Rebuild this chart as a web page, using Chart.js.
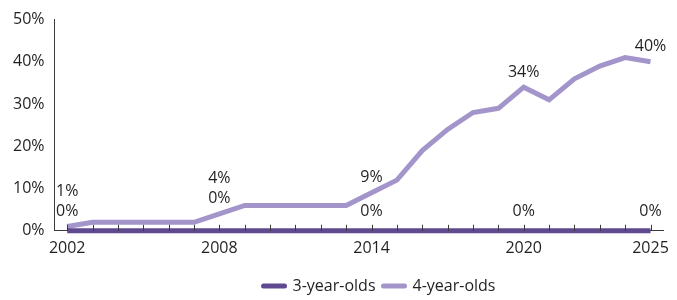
<!DOCTYPE html>
<html>
<head>
<meta charset="utf-8">
<script src="https://cdn.jsdelivr.net/npm/chart.js@4/dist/chart.umd.min.js"></script>
<style>
html,body{margin:0;padding:0;background:#fff;}
#wrap{width:677px;height:300px;position:relative;}
</style>
</head>
<body>
<div id="wrap"><canvas id="c"></canvas></div>
<script>
const years = [2002,2003,2004,2005,2006,2007,2008,2009,2010,2011,2012,2013,2014,2015,2016,2017,2018,2019,2020,2021,2022,2023,2024,2025];
const shownYears = [2002,2008,2014,2020,2025];
const threeYearOlds = [0,0,0,0,0,0,0,0,0,0,0,0,0,0,0,0,0,0,0,0,0,0,0,0];
const fourYearOlds = [1,2,2,2,2,2,4,6,6,6,6,6,9,12,19,24,28,29,34,31,36,39,41,40];
const labelYears = [2002,2008,2014,2020,2025];
const yTicks = [0,10,20,30,40,50];

const FONT = '"Open Sans", "Noto Sans", sans-serif';
const TXT = '#231f20';
const DARK = '#5f4a8f';
const LIGHT = '#a395ca';

const valueLabels = {
  id: 'valueLabels',
  afterInit(chart) {
    const lg = chart.legend;
    if (lg) {
      const orig = lg.draw;
      lg.draw = function() {
        const c = this.ctx;
        c.save();
        c.translate(44, 4);
        orig.apply(this, arguments);
        c.restore();
      };
    }
  },
  afterDatasetsDraw(chart) {
    const ctx = chart.ctx;
    const m3 = chart.getDatasetMeta(0).data;
    const m4 = chart.getDatasetMeta(1).data;
    ctx.save();
    ctx.font = '16px ' + FONT;
    ctx.fillStyle = TXT;
    ctx.textAlign = 'center';
    ctx.textBaseline = 'middle';
    labelYears.forEach(yr => {
      const i = years.indexOf(yr);
      const p3 = m3[i], p4 = m4[i];
      let y3 = p3.y - 19;
      let y4 = p4.y - 15;
      if (p3.y - p4.y < 25) {
        y3 = p4.y - 15;
        y4 = y3 - 20;
      }
      ctx.fillText(threeYearOlds[i] + '%', p3.x, y3);
      ctx.fillText(fourYearOlds[i] + '%', p4.x, y4);
    });
    const xs = chart.scales.x;
    const b = chart.chartArea.bottom;
    ctx.strokeStyle = '#3a3a3a';
    ctx.lineWidth = 1;
    years.forEach((yr, i) => {
      const x = Math.round(xs.getPixelForValue(i)) + 0.5;
      ctx.beginPath();
      ctx.moveTo(x, b);
      ctx.lineTo(x, b - 6);
      ctx.stroke();
    });
    ctx.restore();
  }
};

new Chart(document.getElementById('c'), {
  type: 'line',
  data: {
    labels: years.map(String),
    datasets: [
      { label: '3-year-olds', data: threeYearOlds, borderColor: DARK, backgroundColor: DARK, borderWidth: 5, pointRadius: 0, tension: 0, borderCapStyle: 'butt', clip: false },
      { label: '4-year-olds', data: fourYearOlds, borderColor: LIGHT, backgroundColor: LIGHT, borderWidth: 5, pointRadius: 0, tension: 0, borderCapStyle: 'butt', clip: false }
    ]
  },
  options: {
    responsive: true,
    maintainAspectRatio: false,
    animation: false,
    layout: { padding: { left: 3, right: 9, top: 3, bottom: 0 } },
    plugins: {
      legend: {
        position: 'bottom',
        labels: {
          font: { family: FONT, size: 16 },
          color: TXT,
          usePointStyle: true,
          pointStyle: 'line',
          pointStyleWidth: 21,
          boxWidth: 21,
          padding: 8,
          generateLabels(chart) {
            return chart.data.datasets.map((ds, i) => ({
              text: ds.label, fillStyle: ds.borderColor, strokeStyle: ds.borderColor,
              lineWidth: 5, lineCap: 'round', pointStyle: 'line', datasetIndex: i, fontColor: TXT, hidden: false
            }));
          }
        }
      },
      tooltip: { enabled: false }
    },
    scales: {
      x: {
        type: 'category',
        offset: true,
        grid: { display: true, drawOnChartArea: false, drawTicks: false, offset: false },
        border: { display: true, color: '#3a3a3a', width: 1 },
        ticks: {
          autoSkip: false, maxRotation: 0, padding: 8,
          font: { family: FONT, size: 16 }, color: TXT,
          callback(v, i) { const y = years[i]; return shownYears.includes(y) ? String(y) : ''; }
        }
      },
      y: {
        min: 0, max: 50,
        afterBuildTicks(scale) { scale.ticks = yTicks.map(v => ({ value: v })); },
        grid: { display: false, drawTicks: false },
        border: { display: true, color: '#3a3a3a', width: 1 },
        ticks: { padding: 10, font: { family: FONT, size: 16 }, color: TXT, callback: v => v + '%' }
      }
    }
  },
  plugins: [valueLabels]
});
</script>
</body>
</html>
